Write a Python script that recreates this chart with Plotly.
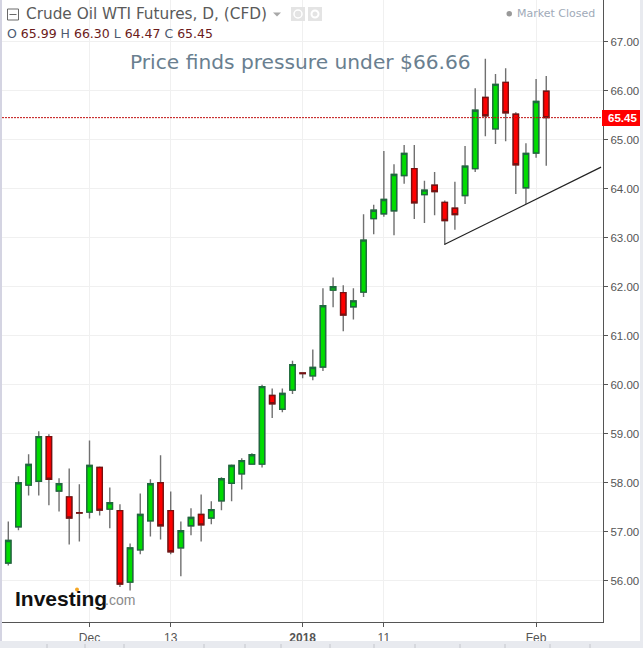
import plotly.graph_objects as go

W, H = 643, 648
L, R, T, B = 2, 603, 0, 622

opens = [56.36,57.10,57.95,58.03,58.94,57.83,57.71,57.39,57.40,58.31,57.46,57.43,55.97,56.63,57.22,
         58.00,57.43,56.67,57.12,57.35,57.28,57.63,57.99,58.18,58.38,58.38,59.78,59.50,59.89,60.24,
         60.18,60.36,61.93,61.88,61.59,61.89,63.39,63.49,63.55,64.27,64.41,63.88,64.07,63.72,63.60,
         63.86,64.41,65.86,65.22,66.17,65.52,64.02,64.73,65.99]
highs = [57.21,58.13,58.58,59.05,58.99,58.09,58.29,57.97,58.86,58.33,57.90,57.56,56.76,57.78,58.07,
         58.56,57.82,57.21,57.48,57.76,57.62,58.11,58.37,58.50,58.60,60.00,59.92,59.92,60.49,60.25,
         60.72,61.97,62.19,62.03,61.97,63.48,63.67,64.77,64.50,64.89,64.89,64.16,64.34,63.76,64.14,
         64.87,66.05,66.65,66.34,66.46,65.56,64.93,66.24,66.30]
lows = [56.31,57.03,57.74,57.74,57.54,57.41,56.74,56.80,57.27,57.33,57.07,55.87,55.80,56.54,56.90,
        56.84,56.54,56.09,56.93,56.80,57.15,57.44,57.62,57.86,58.38,58.31,59.32,59.44,59.81,60.13,
        60.09,60.28,61.58,61.09,61.33,61.79,63.07,63.43,63.05,64.10,63.38,63.30,63.46,62.86,63.16,
        63.69,64.34,65.07,64.91,64.97,63.89,63.69,64.63,64.47]
closes = [56.82,58.00,58.37,58.94,58.07,57.98,57.28,57.38,58.35,57.44,57.59,55.93,56.67,57.35,57.98,
          57.12,56.59,57.02,57.29,57.14,57.45,58.08,58.35,58.45,58.57,59.96,59.61,59.82,60.41,60.23,
          60.35,61.61,62.00,61.42,61.71,62.95,63.56,63.78,64.29,64.72,63.71,63.97,63.94,63.35,63.47,
          64.46,65.60,65.49,66.13,65.55,64.49,64.72,65.78,65.45]
indices = list(range(len(opens)))

price_ticks = [56, 57, 58, 59, 60, 61, 62, 63, 64, 65, 66, 67]
price_labels = [f"{v:.2f}" for v in price_ticks]
date_ticks = [8, 16, 29, 37, 52]
date_labels = ["Dec", "13", "<b>2018</b>", "11", "Feb"]
last_price = 65.45
trend_x = [42.96, 58.4]
trend_y = [62.86, 64.44]

# pixel scales: index 0 at x=8.3, 10.15 px per bar; 49 px per dollar, 67 at y=41.7
x_range = [(L - 8.3) / 10.15, (R - 8.3) / 10.15]
y_range = [67 - (B - 41.7) / 49, 67 + (41.7 - T) / 49]

px = lambda x: (x - L) / (R - L)
py = lambda y: (B - y) / (B - T)

GRAY = "#707070"
fig = go.Figure()
# wicks
fig.add_trace(go.Candlestick(
    x=indices, open=opens, high=highs, low=lows, close=closes, whiskerwidth=0,
    increasing=dict(line=dict(color=GRAY, width=1.4), fillcolor=GRAY),
    decreasing=dict(line=dict(color=GRAY, width=1.4), fillcolor=GRAY),
    showlegend=False, hoverinfo="skip"))
# bodies
fig.add_trace(go.Candlestick(
    x=indices, open=opens, close=closes,
    high=[max(o, c) for o, c in zip(opens, closes)],
    low=[min(o, c) for o, c in zip(opens, closes)],
    whiskerwidth=0,
    increasing=dict(line=dict(color="#1c6b3c", width=1.4), fillcolor="#00dc00"),
    decreasing=dict(line=dict(color="#7a1010", width=1.4), fillcolor="#ff0000"),
    showlegend=False))


def rect(x0, y0, x1, y1, color):
    return dict(type="rect", xref="paper", yref="paper", x0=px(x0), x1=px(x1), y0=py(y0), y1=py(y1),
                fillcolor=color, line=dict(width=0), layer="above")


def seg(x0, y0, x1, y1, color, width=1):
    return dict(type="line", xref="paper", yref="paper", x0=px(x0), x1=px(x1), y0=py(y0), y1=py(y1),
                line=dict(color=color, width=width), layer="above")


shapes = [
    dict(type="line", xref="x", yref="y", x0=x_range[0], x1=x_range[1], y0=last_price, y1=last_price,
         line=dict(color="#c01010", width=1, dash="2px,1px"), layer="above"),
    dict(type="line", xref="x", yref="y", x0=trend_x[0], x1=trend_x[1], y0=trend_y[0], y1=trend_y[1],
         line=dict(color="#222222", width=1.2), layer="above"),
    rect(602, 110, 640, 126, "#ff0000"),
    # page chrome
    rect(0, 641, 643, 648, "#e8eaef"),
    rect(0, 0, 2, 641, "#d4d4e2"),
    rect(640, 0, 643, 648, "#e8eaef"),
    rect(291, 7, 305, 21, "#e4e4e4"),
    rect(308, 7, 322, 21, "#e4e4e4"),
    dict(type="circle", xref="paper", yref="paper", x0=px(294), x1=px(302), y0=py(10), y1=py(18),
         line=dict(color="#ffffff", width=1.5), layer="above"),
    dict(type="circle", xref="paper", yref="paper", x0=px(311.5), x1=px(318.5), y0=py(10.5), y1=py(17.5),
         line=dict(color="#ffffff", width=2), layer="above"),
    dict(type="path", xref="paper", yref="paper", layer="above", fillcolor="#a8a8a8", line=dict(width=0),
         path=f"M {px(273)} {py(12.5)} L {px(281)} {py(12.5)} L {px(277)} {py(16.5)} Z"),
    dict(type="rect", xref="paper", yref="paper", x0=px(7.5), x1=px(18.5), y0=py(9), y1=py(20),
         line=dict(color="#6a6a6a", width=1), layer="above"),
    seg(9.5, 14.5, 16.5, 14.5, "#6a6a6a"),
    dict(type="circle", xref="paper", yref="paper", x0=px(506.5), x1=px(512), y0=py(11), y1=py(16.5),
         fillcolor="#999999", line=dict(width=0), layer="above"),
    dict(type="circle", xref="paper", yref="paper", x0=px(75), x1=px(79), y0=py(587.5), y1=py(591.5),
         fillcolor="#f5a623", line=dict(width=0), layer="above"),
]
for tx in (47, 85, 124, 204, 245, 281, 330, 374, 415, 460, 505, 550, 590):
    shapes.append(seg(tx, 644, tx, 648, "#c4c6cc"))


def label(x, y, text, size, color, font="DejaVu Sans", anchor="left"):
    return dict(xref="paper", yref="paper", x=px(x), y=py(y), text=text, showarrow=False, xanchor=anchor,
                yanchor="middle", font=dict(family=font, size=size, color=color))


OHLC_L, OHLC_V = "#4c5a70", "#6b1a1a"
annotations = [
    label(24, 14, "Crude Oil WTI Futures, D, (CFD)", 15.3, "#5a5a5a"),
    label(5, 33, f'<span style="color:{OHLC_L}">O</span> {opens[-1]:.2f} '
                 f'<span style="color:{OHLC_L}">H</span> {highs[-1]:.2f} '
                 f'<span style="color:{OHLC_L}">L</span> {lows[-1]:.2f} '
                 f'<span style="color:{OHLC_L}">C</span> {closes[-1]:.2f}', 12.5, OHLC_V),
    label(515, 14, "Market Closed", 11, "#a0aab8"),
    label(128, 62, "Price finds pressure under $66.66", 20.2, "#6a7f90"),
    label(622, 118, f"<b>{last_price:.2f}</b>", 11.5, "#ffffff", "Liberation Sans", "center"),
    label(13, 598, "<b>Investing</b>", 21, "#111111", "Liberation Sans"),
    label(103, 600, ".com", 14, "#8a8a8a", "Liberation Sans"),
]

fig.update_layout(
    width=W, height=H, margin=dict(l=L, r=W - R, t=T, b=H - B), autosize=False,
    paper_bgcolor="#ffffff", plot_bgcolor="#ffffff", boxgap=0.25, showlegend=False,
    shapes=shapes, annotations=annotations,
    xaxis=dict(range=x_range, tickmode="array", tickvals=date_ticks, ticktext=date_labels,
               rangeslider=dict(visible=False), showgrid=True, gridcolor="#f0f0f0", gridwidth=1.3,
               showline=True, linecolor="#555555", linewidth=1.3, ticks="outside", ticklen=4,
               tickcolor="#555555", zeroline=False,
               tickfont=dict(family="Liberation Sans", size=12, color="#555555")),
    yaxis=dict(range=y_range, side="right", tickmode="array", tickvals=price_ticks, ticktext=price_labels,
               showgrid=True, gridcolor="#f0f0f0", gridwidth=1.3, showline=True, linecolor="#555555",
               linewidth=1.3, ticks="outside", ticklen=4, tickcolor="#555555", zeroline=False,
               tickfont=dict(family="Liberation Sans", size=11.5, color="#555555")),
)

fig.write_html("out.html", config=dict(displayModeBar=False),
               post_script="document.body.style.margin='0';document.body.style.overflow='hidden';")
